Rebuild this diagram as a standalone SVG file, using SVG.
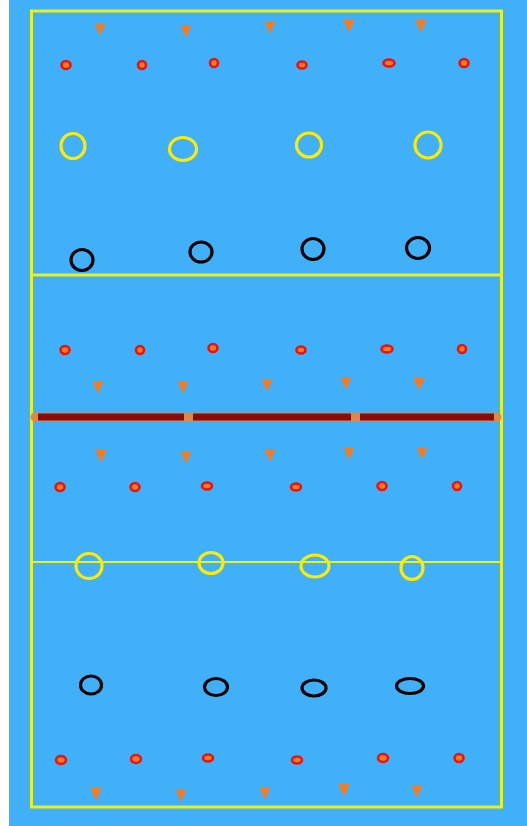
<svg xmlns="http://www.w3.org/2000/svg" width="527" height="826" viewBox="0 0 527 826">
<defs>
<style>
.court{fill:none;stroke:#E8F020;}
.tri{fill:#F77A1E;}
.dot{fill:#F77A1D;stroke:#EE1111;stroke-width:2.6;}
.yc{fill:none;stroke:#FFEA00;stroke-width:3.2;}
.bc{fill:none;stroke:#000;stroke-width:3.2;}
</style>
<path id="t" d="M-5.5,-6 L5.5,-6 L0,6.5 Z"/>
</defs>
<rect x="0" y="0" width="527" height="826" fill="#fff"/>
<rect x="9" y="0" width="518" height="826" fill="#40B1F9"/>
<g id="court">
<rect class="court" x="31.5" y="11" width="470" height="796" stroke-width="3"/>
<line class="court" x1="31.5" y1="275" x2="501.5" y2="275" stroke-width="3"/>
<line class="court" x1="31.5" y1="562" x2="501.5" y2="562" stroke-width="1.8"/>
</g>
<g id="net">
<line x1="35" y1="417" x2="497" y2="417" stroke="#D98A4A" stroke-width="9" stroke-linecap="round"/>
<line x1="38" y1="417" x2="184" y2="417" stroke="#8B0A0A" stroke-width="7"/>
<line x1="193" y1="417" x2="351" y2="417" stroke="#8B0A0A" stroke-width="7"/>
<line x1="360" y1="417" x2="494" y2="417" stroke="#8B0A0A" stroke-width="7"/>
</g>
<g id="triangles">
<use href="#t" class="tri" x="100" y="29"/><use href="#t" class="tri" x="186" y="31"/><use href="#t" class="tri" x="270" y="27"/><use href="#t" class="tri" x="349" y="26"/><use href="#t" class="tri" x="421" y="26"/>
<use href="#t" class="tri" x="98" y="387"/><use href="#t" class="tri" x="183" y="387"/><use href="#t" class="tri" x="267" y="385"/><use href="#t" class="tri" x="346" y="383"/><use href="#t" class="tri" x="419" y="384"/>
<use href="#t" class="tri" x="101" y="456"/><use href="#t" class="tri" x="186" y="457"/><use href="#t" class="tri" x="270" y="455"/><use href="#t" class="tri" x="349" y="453"/><use href="#t" class="tri" x="422" y="453"/>
<use href="#t" class="tri" x="96" y="794"/><use href="#t" class="tri" x="181" y="795"/><use href="#t" class="tri" x="265" y="793"/><use href="#t" class="tri" x="344" y="790"/><use href="#t" class="tri" x="417" y="791"/>
</g>
<g id="dots">
<ellipse class="dot" cx="66" cy="65" rx="4.5" ry="4"/><ellipse class="dot" cx="142" cy="65" rx="4" ry="4"/><ellipse class="dot" cx="214" cy="63" rx="4" ry="4"/><ellipse class="dot" cx="302" cy="65" rx="4.5" ry="3.5"/><ellipse class="dot" cx="389" cy="63" rx="5.5" ry="3.5"/><ellipse class="dot" cx="464" cy="63" rx="4.5" ry="4"/>
<ellipse class="dot" cx="65" cy="350" rx="4.5" ry="4"/><ellipse class="dot" cx="140" cy="350" rx="4" ry="4"/><ellipse class="dot" cx="213" cy="348" rx="4.5" ry="4"/><ellipse class="dot" cx="301" cy="350" rx="4.5" ry="3.5"/><ellipse class="dot" cx="387" cy="349" rx="5.5" ry="3.5"/><ellipse class="dot" cx="462" cy="349" rx="4" ry="4"/>
<ellipse class="dot" cx="60" cy="487" rx="4.5" ry="4"/><ellipse class="dot" cx="135" cy="487" rx="4.5" ry="4"/><ellipse class="dot" cx="207" cy="486" rx="5" ry="3.5"/><ellipse class="dot" cx="296" cy="487" rx="5" ry="3.5"/><ellipse class="dot" cx="382" cy="486" rx="4.5" ry="4"/><ellipse class="dot" cx="457" cy="486" rx="4" ry="4"/>
<ellipse class="dot" cx="61" cy="760" rx="5" ry="4"/><ellipse class="dot" cx="136" cy="759" rx="5" ry="4"/><ellipse class="dot" cx="208" cy="758" rx="5" ry="3.5"/><ellipse class="dot" cx="297" cy="760" rx="5" ry="3.5"/><ellipse class="dot" cx="383" cy="758" rx="5" ry="4"/><ellipse class="dot" cx="459" cy="758" rx="4.5" ry="4"/>
</g>
<g id="yellow-circles">
<ellipse class="yc" cx="73" cy="146" rx="12" ry="12.5"/><ellipse class="yc" cx="183" cy="149" rx="13.5" ry="11.5"/><ellipse class="yc" cx="309" cy="145" rx="12.5" ry="12"/><ellipse class="yc" cx="428" cy="145" rx="13" ry="13"/>
<ellipse class="yc" cx="89" cy="566" rx="13" ry="12.5"/><ellipse class="yc" cx="211" cy="563" rx="12" ry="10.5"/><ellipse class="yc" cx="315" cy="566" rx="14" ry="11"/><ellipse class="yc" cx="412" cy="568" rx="11" ry="11.5"/>
</g>
<g id="black-circles">
<ellipse class="bc" cx="82" cy="260" rx="11" ry="10.5"/><ellipse class="bc" cx="201" cy="252" rx="11" ry="10"/><ellipse class="bc" cx="313" cy="249" rx="11" ry="10.5"/><ellipse class="bc" cx="418" cy="248" rx="11.5" ry="10.5"/>
<ellipse class="bc" cx="91" cy="685" rx="10.5" ry="9"/><ellipse class="bc" cx="216" cy="687" rx="11.5" ry="8.5"/><ellipse class="bc" cx="314" cy="688" rx="12" ry="8"/><ellipse class="bc" cx="410" cy="686" rx="13.5" ry="7.5"/>
</g>
</svg>
